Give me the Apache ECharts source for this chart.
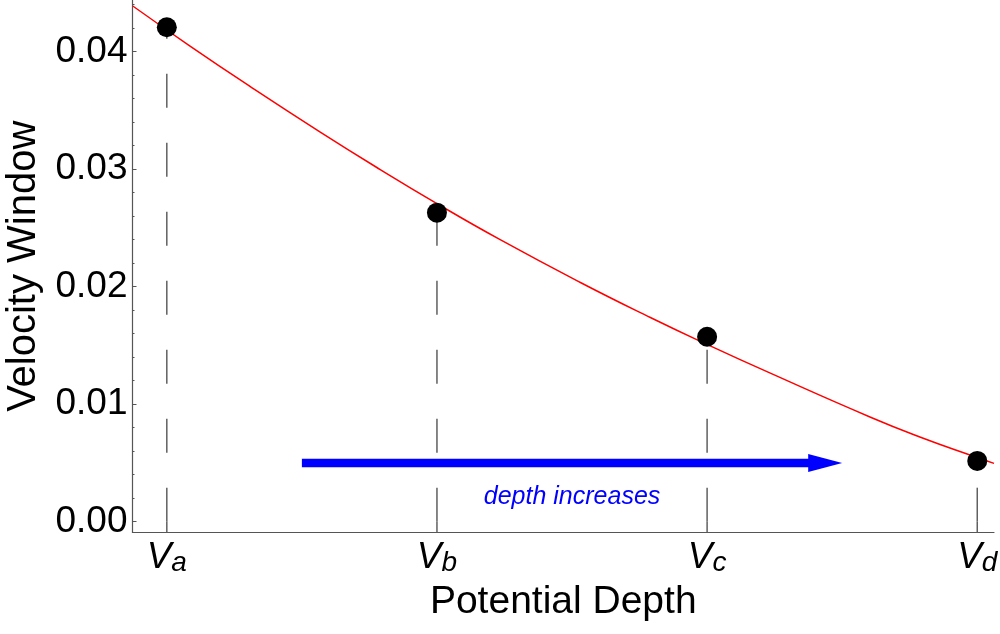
<!DOCTYPE html>
<html>
<head>
<meta charset="utf-8">
<script src="https://cdn.jsdelivr.net/npm/echarts@6/dist/echarts.min.js"></script>
<style>
  html, body { margin: 0; padding: 0; background: #fff; }
  #main { width: 1000px; height: 634px; }
</style>
</head>
<body>
<div id="main"></div>
<script>
// data
var subscripts = ['a', 'b', 'c', 'd'];
var pointX = [1, 2, 3, 4];
var pointY = [0.04208, 0.02630, 0.01574, 0.00517];

// red fitted curve, sampled by eye
var curveX = [0.874, 1.086, 1.309, 1.568, 1.790, 2.000, 2.234, 2.531,
              2.790, 3.000, 3.234, 3.605, 3.790, 4.002, 4.062];
var curveY = [0.04389, 0.04048, 0.03703, 0.03316, 0.02997, 0.02707, 0.02400, 0.02036,
              0.01738, 0.01509, 0.01264, 0.00889, 0.00719, 0.00544, 0.00496];

var yTicks = [0, 0.01, 0.02, 0.03, 0.04];
var yMinorTicks = [0.002, 0.004, 0.006, 0.008, 0.012, 0.014, 0.016, 0.018, 0.022, 0.024,
                   0.026, 0.028, 0.032, 0.034, 0.036, 0.038, 0.042, 0.044];
var xMin = 0.873, xMax = 4.062;
var yMin = -0.00092, yMax = 0.0444;

var arrowFrom = [1.5, 0.005];
var arrowTo = [3.5, 0.005];
var noteAt = [2.5, 0.0021];
var noteText = 'depth increases';

var font = 'Liberation Sans';

var dom = document.getElementById('main');
var myChart = echarts.init(dom);
var option = null;

function pairs(xs, ys) {
    var out = [];
    for (var i = 0; i < xs.length; i++) out.push([xs[i], ys[i]]);
    return out;
}

option = {
    animation: false,
    backgroundColor: '#fff',
    grid: { left: 132.5, right: 6, top: 0, bottom: 101.5, outerBoundsMode: 'none', containLabel: false },
    xAxis: {
        type: 'value',
        min: xMin,
        max: xMax,
        name: 'Potential Depth',
        nameLocation: 'middle',
        nameGap: 47,
        nameTextStyle: { fontFamily: font, fontSize: 39, color: '#000' },
        axisLine: { show: true, onZero: false, lineStyle: { color: '#555', width: 1.2 } },
        axisTick: { show: false },
        splitLine: { show: false },
        axisLabel: {
            customValues: pointX,
            margin: 5,
            formatter: function (v) {
                return '{v|V}{s|' + subscripts[Math.round(v) - 1] + '}';
            },
            rich: {
                v: { fontFamily: font, fontSize: 37, fontStyle: 'italic', color: '#000', lineHeight: 40 },
                s: { fontFamily: font, fontSize: 28, fontStyle: 'italic', color: '#000', lineHeight: 18, verticalAlign: 'bottom' }
            }
        }
    },
    yAxis: [{
        type: 'value',
        min: yMin,
        max: yMax,
        name: 'Velocity Window',
        nameLocation: 'middle',
        nameGap: 89,
        nameTextStyle: { fontFamily: font, fontSize: 40, color: '#000' },
        axisLine: { show: true, onZero: false, lineStyle: { color: '#555', width: 1.2 } },
        axisTick: { show: true, inside: true, length: 4, customValues: yTicks, lineStyle: { color: '#555', width: 1 } },
        splitLine: { show: false },
        axisLabel: {
            customValues: yTicks,
            margin: 5,
            fontFamily: font,
            fontSize: 37,
            color: '#000',
            formatter: function (v) { return v.toFixed(2); }
        }
    }, {
        type: 'value',
        min: yMin,
        max: yMax,
        position: 'left',
        axisLine: { show: false },
        axisTick: { show: true, inside: true, length: 2, customValues: yMinorTicks, lineStyle: { color: '#555', width: 1 } },
        axisLabel: { show: false },
        splitLine: { show: false }
    }],
    series: [
        {
            // dashed drop lines
            type: 'custom',
            z: 1,
            data: pairs(pointX, pointY),
            renderItem: function (params, api) {
                var x = api.value(0), y = api.value(1);
                var p0 = api.coord([x, 0]);
                var p1 = api.coord([x, y]);
                var pb = api.coord([x, yMin]);
                return {
                    type: 'group',
                    children: [{
                        type: 'line',
                        shape: { x1: p0[0], y1: p0[1], x2: p1[0], y2: p1[1] },
                        style: { stroke: '#606060', lineWidth: 1.5, lineDash: [34, 35] }
                    }, {
                        type: 'line',
                        shape: { x1: pb[0], y1: pb[1], x2: p0[0], y2: p0[1] },
                        style: { stroke: '#606060', lineWidth: 1.5 }
                    }]
                };
            }
        },
        {
            type: 'line',
            z: 2,
            data: pairs(curveX, curveY),
            smooth: true,
            showSymbol: false,
            lineStyle: { color: '#ff0000', width: 1.5 }
        },
        {
            type: 'scatter',
            z: 3,
            data: pairs(pointX, pointY),
            symbolSize: 20,
            itemStyle: { color: '#000', opacity: 1 }
        },
        {
            // arrow and its note
            type: 'custom',
            z: 4,
            data: [[arrowFrom[0], arrowFrom[1], arrowTo[0], arrowTo[1]]],
            renderItem: function (params, api) {
                var a = api.coord([api.value(0), api.value(1)]);
                var b = api.coord([api.value(2), api.value(3)]);
                var t = api.coord(noteAt);
                var headLen = 34, headHalf = 9, shaftHalf = 4.2;
                return {
                    type: 'group',
                    children: [{
                        type: 'rect',
                        shape: { x: a[0], y: a[1] - shaftHalf, width: b[0] - headLen - a[0] + 1, height: shaftHalf * 2 },
                        style: { fill: '#0000ff' }
                    }, {
                        type: 'polygon',
                        shape: { points: [[b[0] - headLen, a[1] - headHalf], [b[0], a[1]], [b[0] - headLen, a[1] + headHalf]] },
                        style: { fill: '#0000ff' }
                    }, {
                        type: 'text',
                        x: t[0],
                        y: t[1],
                        style: {
                            text: noteText,
                            fill: '#0000ff',
                            font: 'italic 25px "Liberation Sans"',
                            align: 'center',
                            verticalAlign: 'middle'
                        }
                    }]
                };
            }
        }
    ]
};

if (option && typeof option === "object") {
    myChart.setOption(option, true);
}
</script>
</body>
</html>
